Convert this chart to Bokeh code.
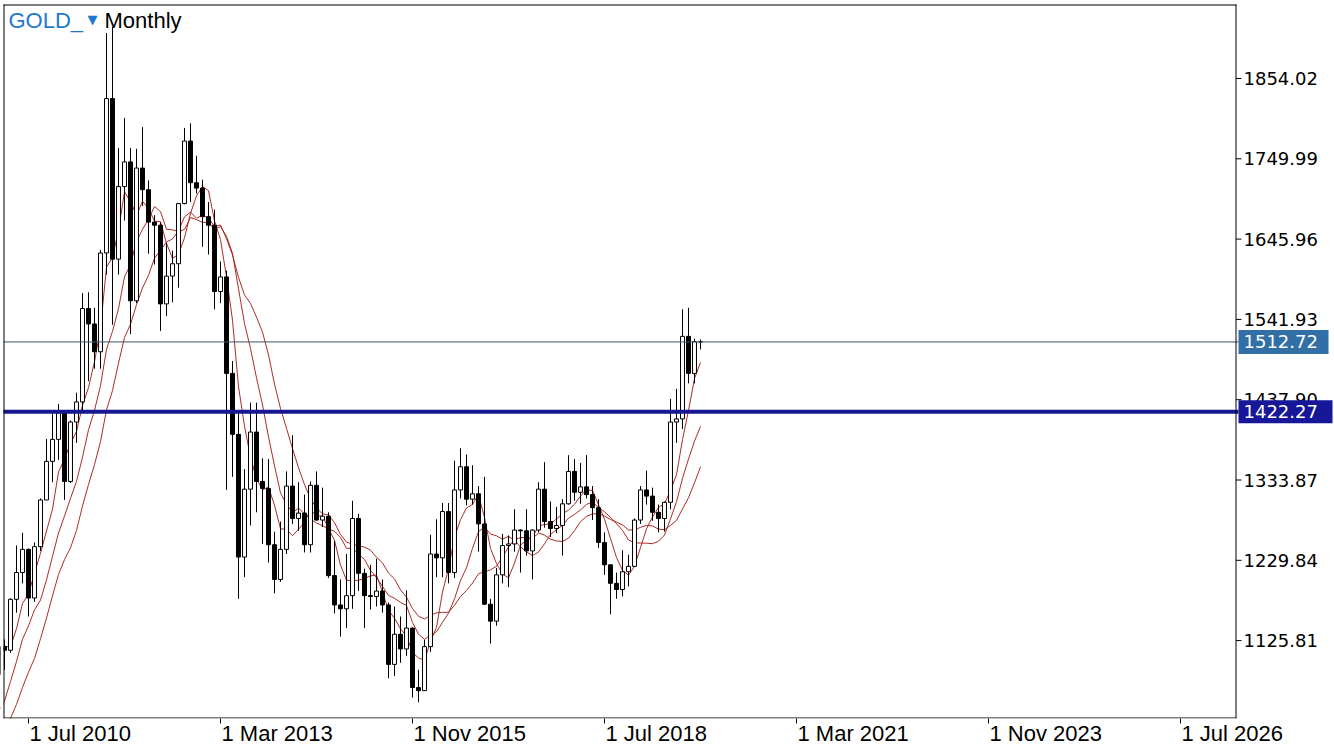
import numpy as np
from bokeh.plotting import figure
from bokeh.models import FixedTicker, Label, Range1d, ColumnDataSource, LinearAxis
from bokeh.core.properties import value
from bokeh.embed import file_html
from bokeh.resources import INLINE

symbol = "GOLD_"
timeframe = "Monthly"
start_year, start_month = 2010, 2   # first candle: Feb 2010

# monthly closes Dec 2008 .. Jan 2010 (warm-up for the moving averages)
prior_closes = [869.8, 927.3, 942.5, 916.5, 883.3, 979.5, 926.9, 954.5, 955.5,
                1008.0, 1040.0, 1181.5, 1096.0, 1081.8]

opens = [
    1081.8, 1118.3, 1113.3, 1179.3, 1214.0, 1244.0, 1181.0, 1247.5, 1308.0, 1358.0, 1386.5,
    1421.0, 1332.0, 1409.0, 1435.0, 1556.0, 1536.0, 1500.0, 1628.0, 1828.0, 1620.0, 1714.0, 1746.0,
    1566.0, 1738.0, 1710.0, 1668.0, 1664.0, 1562.0, 1598.0, 1614.0, 1692.0, 1773.0, 1719.0, 1712.0,
    1675.0, 1664.0, 1578.0, 1597.0, 1472.0, 1393.0, 1234.0, 1322.0, 1396.0, 1332.0, 1323.0, 1250.0,
    1205.0, 1244.0, 1326.0, 1284.0, 1291.0, 1250.0, 1327.0, 1282.0, 1287.0, 1210.0, 1172.0, 1167.0,
    1184.0, 1284.0, 1213.0, 1184.0, 1183.0, 1190.0, 1172.0, 1095.0, 1134.0, 1115.0, 1142.0, 1065.0,
    1061.0, 1118.0, 1238.0, 1233.0, 1293.0, 1214.0, 1321.0, 1351.0, 1309.0, 1316.0, 1277.0, 1173.0,
    1151.0, 1211.0, 1249.0, 1251.0, 1269.0, 1268.0, 1242.0, 1269.0, 1322.0, 1280.0, 1271.0, 1275.0,
    1303.0, 1345.0, 1318.0, 1325.0, 1315.0, 1298.0, 1253.0, 1224.0, 1200.0, 1192.0, 1215.0, 1222.0,
    1282.0, 1321.0, 1313.0, 1292.0, 1284.0, 1305.0, 1409.0, 1413.0, 1520.0, 1472.0, 1513.0,
]
highs = [
    1127.0, 1127.5, 1180.5, 1249.0, 1265.5, 1245.0, 1253.0, 1310.0, 1387.0, 1424.0, 1432.5,
    1424.0, 1411.0, 1447.0, 1576.0, 1577.0, 1557.0, 1632.0, 1913.0, 1921.0, 1764.0, 1803.0, 1764.0,
    1763.0, 1791.0, 1722.0, 1677.0, 1668.0, 1641.0, 1631.0, 1692.0, 1790.0, 1796.0, 1754.0, 1723.0,
    1694.0, 1684.0, 1617.0, 1605.0, 1488.0, 1424.0, 1348.0, 1434.0, 1434.0, 1362.0, 1361.0, 1267.0,
    1280.0, 1345.0, 1392.0, 1331.0, 1315.0, 1332.0, 1345.0, 1324.0, 1292.0, 1255.0, 1205.0, 1238.0,
    1307.0, 1290.0, 1219.0, 1224.0, 1232.0, 1205.0, 1175.0, 1170.0, 1157.0, 1191.0, 1143.0, 1088.0,
    1127.0, 1263.0, 1283.0, 1304.0, 1304.0, 1359.0, 1375.0, 1367.0, 1353.0, 1326.0, 1338.0, 1180.0,
    1220.0, 1264.0, 1262.0, 1296.0, 1270.0, 1296.0, 1270.0, 1331.0, 1357.0, 1306.0, 1299.0, 1309.0,
    1366.0, 1361.0, 1356.0, 1366.0, 1326.0, 1309.0, 1266.0, 1224.0, 1214.0, 1243.0, 1237.0, 1284.0,
    1326.0, 1346.0, 1324.0, 1302.0, 1306.0, 1439.0, 1452.0, 1555.0, 1557.0, 1517.0, 1516.0,
]
lows = [
    1044.5, 1088.0, 1110.0, 1162.0, 1200.0, 1157.0, 1176.0, 1242.0, 1308.0, 1331.0, 1360.0,
    1308.0, 1330.0, 1382.0, 1423.0, 1462.0, 1478.0, 1478.0, 1600.0, 1535.0, 1600.0, 1670.0, 1523.0,
    1563.0, 1689.0, 1627.0, 1613.0, 1527.0, 1546.0, 1564.0, 1583.0, 1691.0, 1694.0, 1705.0, 1636.0,
    1626.0, 1555.0, 1563.0, 1321.0, 1338.0, 1180.0, 1208.0, 1275.0, 1292.0, 1251.0, 1227.0, 1187.0,
    1202.0, 1238.0, 1277.0, 1268.0, 1240.0, 1240.0, 1281.0, 1273.0, 1207.0, 1161.0, 1131.0, 1142.0,
    1167.0, 1190.0, 1142.0, 1166.0, 1170.0, 1162.0, 1077.0, 1080.0, 1097.0, 1106.0, 1052.0, 1046.0,
    1061.0, 1111.0, 1208.0, 1208.0, 1200.0, 1207.0, 1310.0, 1301.0, 1302.0, 1241.0, 1172.0, 1122.0,
    1145.0, 1200.0, 1195.0, 1241.0, 1214.0, 1236.0, 1205.0, 1266.0, 1272.0, 1260.0, 1265.0, 1236.0,
    1302.0, 1307.0, 1303.0, 1310.0, 1282.0, 1246.0, 1211.0, 1160.0, 1180.0, 1183.0, 1196.0, 1221.0,
    1277.0, 1302.0, 1281.0, 1266.0, 1267.0, 1296.0, 1382.0, 1400.0, 1459.0, 1459.0, 1503.0,
]
closes = [
    1118.3, 1113.3, 1179.3, 1214.0, 1244.0, 1181.0, 1247.5, 1308.0, 1358.0, 1386.5, 1421.0,
    1332.0, 1409.0, 1435.0, 1556.0, 1536.0, 1500.0, 1628.0, 1828.0, 1620.0, 1714.0, 1746.0, 1566.0,
    1738.0, 1710.0, 1668.0, 1664.0, 1562.0, 1598.0, 1614.0, 1692.0, 1773.0, 1719.0, 1712.0, 1675.0,
    1664.0, 1578.0, 1597.0, 1472.0, 1393.0, 1234.0, 1322.0, 1396.0, 1332.0, 1323.0, 1250.0, 1205.0,
    1244.0, 1326.0, 1284.0, 1291.0, 1250.0, 1327.0, 1282.0, 1287.0, 1210.0, 1172.0, 1167.0, 1184.0,
    1284.0, 1213.0, 1184.0, 1183.0, 1190.0, 1172.0, 1095.0, 1134.0, 1115.0, 1142.0, 1065.0, 1061.0,
    1118.0, 1238.0, 1233.0, 1293.0, 1214.0, 1321.0, 1351.0, 1309.0, 1316.0, 1277.0, 1173.0, 1151.0,
    1211.0, 1249.0, 1251.0, 1269.0, 1268.0, 1242.0, 1269.0, 1322.0, 1280.0, 1271.0, 1275.0, 1303.0,
    1345.0, 1318.0, 1325.0, 1315.0, 1298.0, 1253.0, 1224.0, 1200.0, 1192.0, 1215.0, 1222.0, 1282.0,
    1321.0, 1313.0, 1292.0, 1284.0, 1305.0, 1409.0, 1413.0, 1520.0, 1472.0, 1513.0, 1512.72,
]

ma_periods = [5, 10, 15]
current_price = 1512.72
level_price = 1422.27

y_ticks = [1125.81, 1229.84, 1333.87, 1437.90, 1541.93, 1645.96, 1749.99, 1854.02]
y_tick_labels = ["1125.81", "1229.84", "1333.87", "1437.90", "1541.93", "1645.96", "1749.99", "1854.02"]
x_tick_dates = [(2010, 7), (2013, 3), (2015, 11), (2018, 7), (2021, 3), (2023, 11), (2026, 7)]
x_tick_labels = ["1 Jul 2010", "1 Mar 2013", "1 Nov 2015", "1 Jul 2018", "1 Mar 2021", "1 Nov 2023", "1 Jul 2026"]

# ---------------------------------------------------------------------------
n = len(closes)
o = np.array(opens); h = np.array(highs); l = np.array(lows); c = np.array(closes)
idx = np.arange(n)
up = c >= o

def month_index(y, m):
    return (y - start_year) * 12 + (m - start_month)

x_tick_pos = [month_index(y, m) for (y, m) in x_tick_dates]

all_closes = np.array(prior_closes + closes)
ma_lines = []
for per in ma_periods:
    ma = np.convolve(all_closes, np.ones(per) / per, mode="valid")
    ma_lines.append(ma[-n:])

# layout (pixels): price area 3..1235 x 4..717, price scale to the right
W, H = 1334, 750
FRAME_H = 718                      # frame covers the whole width, x axis below
PX_PER_BAR = 6.0
BAR0_PX = -2.0                     # pixel of first bar
PX_PER_USD = 713 / 923.7
REF_PRICE, REF_PX = 1854.02, 78.0

def px_x(px):
    return (px - BAR0_PX) / PX_PER_BAR

def px_y(py):
    return REF_PRICE - (py - REF_PX) / PX_PER_USD

def dy(pxs):
    return pxs / PX_PER_USD

X0, X1 = px_x(0), px_x(W)
Y0, Y1 = px_y(FRAME_H), px_y(0)
PL, PT, PR, PB = 3, 4, 1235, 717     # price-area border

# x labels are left-aligned at their tick: approximate text width (Arial metrics)
XLAB_SIZE = 22
EM = {" ": 0.278, "J": 0.5, "u": 0.556, "l": 0.222, "M": 0.833, "a": 0.556, "r": 0.333,
      "N": 0.722, "o": 0.556, "v": 0.5}
def text_w(s):
    return sum(EM.get(ch, 0.556) for ch in s) * XLAB_SIZE
x_label_pos = [t + (text_w(s) / 2 + 1) / PX_PER_BAR for t, s in zip(x_tick_pos, x_tick_labels)]

p = figure(width=W, height=H, output_backend="svg", toolbar_location=None,
           x_range=Range1d(X0, X1), y_range=Range1d(Y0, Y1),
           y_axis_location=None,
           min_border_left=0, min_border_top=0, min_border_right=0,
           min_border_bottom=H - FRAME_H)
p.background_fill_color = "white"
p.border_fill_color = "white"
p.outline_line_color = None
p.grid.visible = False

# x axis: tick marks only
xa = p.xaxis[0]
xa.ticker = FixedTicker(ticks=x_tick_pos)
xa.major_label_overrides = {pos: "" for pos in x_tick_pos}
xa.major_label_text_font_size = "1px"
xa.major_label_standoff = 0
xa.major_tick_out = 5
xa.major_tick_in = 0
xa.minor_tick_line_color = None
xa.axis_line_color = None
xa.major_tick_line_color = "black"

# x axis: labels, starting at their tick
xl = LinearAxis(ticker=FixedTicker(ticks=x_label_pos),
                major_label_overrides={pos: s for pos, s in zip(x_label_pos, x_tick_labels)},
                axis_line_color=None, major_tick_line_color=None, minor_tick_line_color=None,
                major_tick_in=0, major_tick_out=0, major_label_standoff=-3,
                major_label_text_font="Liberation Sans", major_label_text_font_size=f"{XLAB_SIZE}px",
                major_label_text_color="black")
p.add_layout(xl, "below")

# moving averages
for ma in ma_lines:
    p.line(idx, ma, line_color="#a8201a", line_width=1, line_alpha=0.95)

# candles
src = ColumnDataSource(dict(x=idx, o=o, h=h, l=l, c=c,
                            top=np.maximum(o, c), bottom=np.minimum(o, c),
                            fill=["white" if u else "black" for u in up]))
p.segment(x0="x", y0="l", x1="x", y1="h", source=src, line_color="black", line_width=1)
p.vbar(x="x", width=0.66, top="top", bottom="bottom", source=src,
       fill_color="fill", line_color="black", line_width=1)

# blank margin left of the price area
p.quad(left=[X0], right=[px_x(PL)], bottom=[Y0], top=[Y1], fill_color="white", line_color=None)

# horizontal lines (current price / level)
p.segment(x0=[px_x(PL)], x1=[px_x(1238)], y0=[current_price], y1=[current_price],
          line_color="#3d5563", line_width=1)
p.segment(x0=[px_x(PL)], x1=[px_x(1238)], y0=[level_price], y1=[level_price],
          line_color="#16168f", line_width=4)

# price-area border
bx0 = [px_x(PL + 0.5), px_x(PL), px_x(PR + 0.5), px_x(PL)]
bx1 = [px_x(PL + 0.5), px_x(PR + 1), px_x(PR + 0.5), px_x(PR + 1)]
by0 = [px_y(PT), px_y(PT + 0.5), px_y(PT), px_y(PB + 0.5)]
by1 = [px_y(PB + 1), px_y(PT + 0.5), px_y(PB + 1), px_y(PB + 0.5)]
p.segment(x0=bx0, x1=bx1, y0=by0, y1=by1, line_color="black", line_width=1)

# price scale: ticks and labels
p.segment(x0=[px_x(PR + 0.5)] * len(y_ticks), x1=[px_x(PR + 6)] * len(y_ticks),
          y0=y_ticks, y1=y_ticks, line_color="black", line_width=1)
p.text(x=[px_x(1243)] * len(y_ticks), y=y_ticks, text=y_tick_labels,
       text_font=value("DejaVu Sans"), text_font_size="18px", text_color="black",
       text_baseline="middle", text_align="left")

# price boxes on the scale
box_prices = [current_price, level_price]
box_texts = [f"{current_price:.2f}", f"{level_price:.2f}"]
box_colors = ["#326fa6", "#17179a"]
box_right = [px_x(1328), px_x(1332)]
box_half = [dy(12), dy(11.5)]
p.quad(left=[px_x(1238)] * 2, right=box_right,
       bottom=[bp - hh for bp, hh in zip(box_prices, box_half)],
       top=[bp + hh for bp, hh in zip(box_prices, box_half)],
       fill_color=box_colors, line_color=None)
p.text(x=[px_x(1243)] * 2, y=box_prices, text=box_texts,
       text_font=value("DejaVu Sans"), text_font_size="18px", text_color="white",
       text_baseline="middle", text_align="left")

# title
p.add_layout(Label(x=px_x(8), y=px_y(20), text=symbol, text_baseline="alphabetic",
                   text_font="Liberation Sans", text_font_size="22px", text_color="#1f78cf"))
p.add_layout(Label(x=px_x(87), y=px_y(19), text="\u25BC", text_baseline="alphabetic",
                   text_font="DejaVu Sans", text_font_size="13px", text_color="#1f78cf"))
p.add_layout(Label(x=px_x(104), y=px_y(20), text=timeframe, text_baseline="alphabetic",
                   text_font="Liberation Sans", text_font_size="22px", text_color="black"))

html = file_html(p, INLINE, title="GOLD_ Monthly")
html = html.replace("<head>", "<head><style>html,body{margin:0;padding:0;overflow:hidden;}</style>", 1)
open("out.html", "w").write(html)
